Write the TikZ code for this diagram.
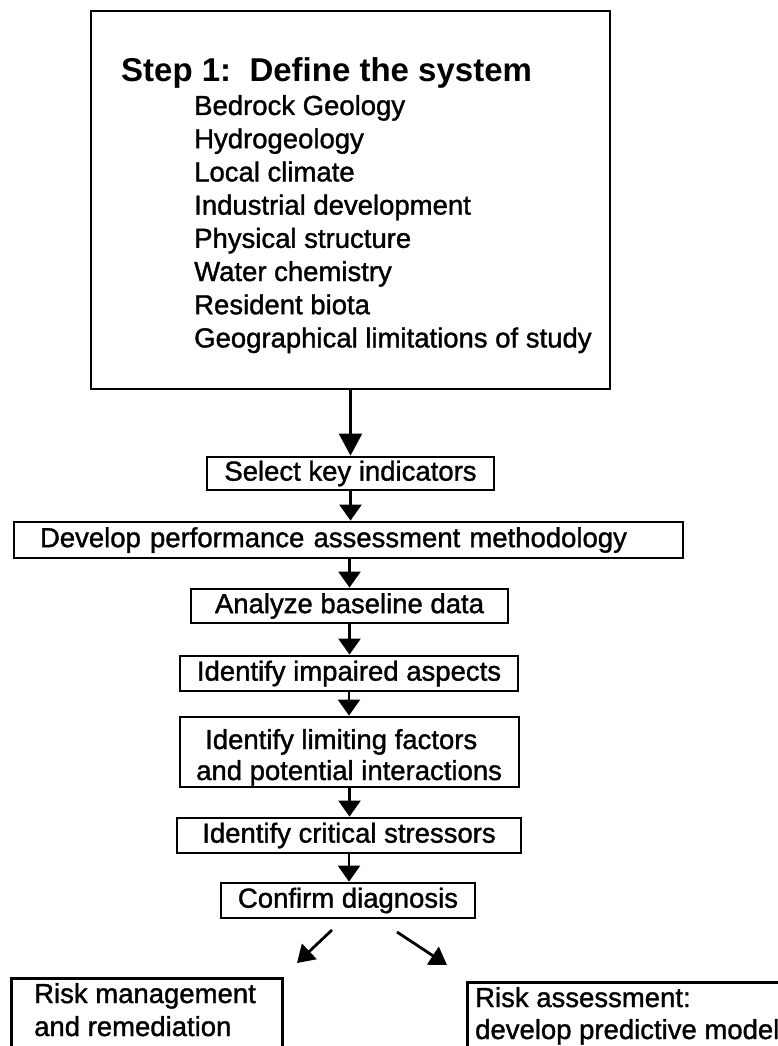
\documentclass[tikz,border=0pt]{standalone}
\usepackage{fontspec}
\setmainfont{Liberation Sans}
\newfontfamily\heavyfont{Liberation Sans}[FakeBold=1.3]
\usetikzlibrary{arrows.meta}
\begin{document}
\begin{tikzpicture}[x=1pt,y=-1pt,
  box/.style={draw, line width=2.8pt, inner sep=0pt, font={\heavyfont\fontsize{27.5}{32}\selectfont}},
  txt/.style={inner sep=0pt, font={\heavyfont\fontsize{27.5}{32}\selectfont}},
  arr/.style={line width=2.4pt, -{Triangle[width=22pt,length=16pt]}},
  bigarr/.style={line width=2.4pt, -{Triangle[width=23pt,length=22pt]}},
  diagarr/.style={line width=2.8pt, -{Triangle[width=21pt,length=17pt]}},
]
\useasboundingbox (0,0) rectangle (778,1046);
\clip (0,0) rectangle (778,1046);
% top box
\node[box, minimum width=519pt, minimum height=378pt] (sys) at (350.5,200) {};
\node[txt, anchor=base west, font={\fontsize{33}{38}\selectfont\bfseries}] (title) at (121,82) {Step 1:\ \ Define the system};
\foreach \t [count=\i] in {Bedrock Geology,Hydrogeology,Local climate,Industrial development,Physical structure,Water chemistry,Resident biota,Geographical limitations of study}
  \node[txt, anchor=base west] (item\i) at (194,{115+33.2*(\i-1)}) {\t};
% chain
\node[box, minimum width=287pt, minimum height=33pt] (select) at (350.5,473.5) {Select key indicators};
\node[box, minimum width=669pt, minimum height=36pt, text width=617pt, align=left, inner xsep=26pt] (develop) at (348.5,540) {Develop performance assessment methodology};
\node[box, minimum width=317pt, minimum height=34pt] (analyze) at (349.5,606) {Analyze baseline data};
\node[box, minimum width=338pt, minimum height=35pt] (impaired) at (349,673.5) {Identify impaired aspects};
\node[box, minimum width=339pt, minimum height=70pt] (limiting) at (349.5,752) {};
\node[txt, anchor=base west] (lim1) at (205,749) {Identify limiting factors};
\node[txt, anchor=base west] (lim2) at (196,780) {and potential interactions};
\node[box, minimum width=344pt, minimum height=35pt] (critical) at (349,835.5) {Identify critical stressors};
\node[box, minimum width=254pt, minimum height=35pt] (confirm) at (348,900.5) {Confirm diagnosis};
% bottom boxes
\node[box, minimum width=271pt, minimum height=100pt, anchor=north west] (riskman) at (10,977) {};
\node[txt, anchor=base west] (rm1) at (34,1003) {Risk management};
\node[txt, anchor=base west] (rm2) at (34,1036) {and remediation};
\node[box, minimum width=340pt, minimum height=100pt, anchor=north west] (riskass) at (466,981) {};
\node[txt, anchor=base west] (ra1) at (475,1007) {Risk assessment:};
\node[txt, anchor=base west] (ra2) at (475,1039) {develop predictive model};
% arrows
\draw[bigarr] (sys.south) -- (select.north);
\draw[arr] (select.south) -- (select.south |- develop.north);
\draw[arr] (develop.south -| analyze.north) -- (analyze.north);
\draw[arr] (analyze.south) -- (analyze.south |- impaired.north);
\draw[arr] (impaired.south) -- (impaired.south |- limiting.north);
\draw[arr] (limiting.south) -- (limiting.south |- critical.north);
\draw[arr] (critical.south) -- (critical.south |- confirm.north);
\coordinate (l1) at (332,930);
\coordinate (l2) at (297,963);
\coordinate (r1) at (397,932);
\coordinate (r2) at (447,965);
\draw[diagarr] (l1) -- (l2);
\draw[diagarr] (r1) -- (r2);
\end{tikzpicture}
\end{document}
